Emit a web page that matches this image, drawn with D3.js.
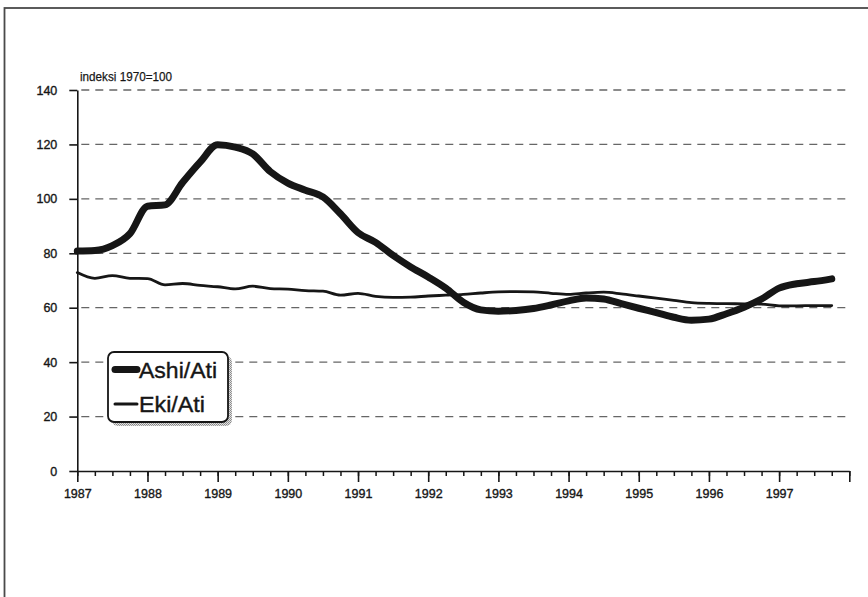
<!DOCTYPE html>
<html>
<head>
<meta charset="utf-8">
<script src="https://cdn.jsdelivr.net/npm/d3@7"></script>
<style>
  html, body { margin: 0; padding: 0; background: #ffffff; }
  svg { display: block; font-family: "Liberation Sans", Arial, Helvetica, sans-serif; }
</style>
</head>
<body>
<svg id="chart" width="868" height="597"></svg>
<script>
// ---- data (quarterly, decimal years) ----
const quarters = [
  1987.00, 1987.25, 1987.50, 1987.75,
  1988.00, 1988.25, 1988.50, 1988.75,
  1989.00, 1989.25, 1989.50, 1989.75,
  1990.00, 1990.25, 1990.50, 1990.75,
  1991.00, 1991.25, 1991.50, 1991.75,
  1992.00, 1992.25, 1992.50, 1992.75,
  1993.00, 1993.25, 1993.50, 1993.75,
  1994.00, 1994.25, 1994.50, 1994.75,
  1995.00, 1995.25, 1995.50, 1995.75,
  1996.00, 1996.25, 1996.50, 1996.75,
  1997.00, 1997.25, 1997.50, 1997.75
];
const ashiAti = [
  80.8, 81.0, 82.8, 87.2,
  97.3, 97.8, 106.0, 113.5,
  119.9, 119.0, 116.5, 110.0,
  105.8, 103.2, 100.7, 94.5,
  87.6, 84.0, 79.2, 75.0,
  71.3, 67.2, 62.0, 59.2,
  58.7, 59.0, 59.7, 61.0,
  62.5, 63.6, 63.2, 61.5,
  59.8, 58.2, 56.5, 55.4,
  55.8, 57.8, 60.2, 63.2,
  67.2, 68.8, 69.6, 70.6
];
const ekiAti = [
  72.9, 70.8, 71.8, 70.8,
  70.7, 68.4, 68.9, 68.2,
  67.7, 66.9, 67.9, 67.0,
  66.8, 66.3, 66.1, 64.6,
  65.3, 64.2, 63.8, 63.9,
  64.3, 64.6, 64.9, 65.4,
  65.8, 65.9, 65.8, 65.3,
  64.9, 65.4, 65.7, 65.1,
  64.3, 63.5, 62.7, 61.9,
  61.6, 61.5, 61.4, 61.3,
  60.7, 60.7, 60.8, 60.8
];
const yTicks = [0, 20, 40, 60, 80, 100, 120, 140];
const gridTicks = [20, 40, 60, 80, 100, 120, 140];
const yearTicks = [1987, 1988, 1989, 1990, 1991, 1992, 1993, 1994, 1995, 1996, 1997, 1998];
const yearLabels = ["1987", "1988", "1989", "1990", "1991", "1992", "1993", "1994", "1995", "1996", "1997", ""];
const seriesNames = ["Ashi/Ati", "Eki/Ati"];
const unitLabel = "indeksi 1970=100";

// ---- layout ----
const svg = d3.select("#chart");
const x = d3.scaleLinear().domain([1987, 1998]).range([77.3, 849.3]);
const y = d3.scaleLinear().domain([0, 140]).range([471, 90]);
const ink = "#161616";
const textStroke = 0.35;

// frame
svg.append("rect")
  .attr("x", 4.5).attr("y", 8).attr("width", 900).attr("height", 700)
  .attr("fill", "none").attr("stroke", "#4a4a4a").attr("stroke-width", 1.8);

// gridlines
svg.append("g").selectAll("line").data(gridTicks).join("line")
  .attr("x1", x(1987) + 4).attr("x2", 848)
  .attr("y1", d => y(d)).attr("y2", d => y(d))
  .attr("stroke", "#666").attr("stroke-width", 1.3)
  .attr("stroke-dasharray", "8,6");

// y axis
const yAxis = svg.append("g")
  .attr("transform", `translate(${x(1987)},0)`)
  .call(d3.axisLeft(y).tickValues(yTicks).tickSize(8).tickSizeOuter(0).tickPadding(12));
yAxis.select(".domain").attr("stroke", ink).attr("stroke-width", 1.6);
yAxis.selectAll(".tick line").attr("stroke", ink).attr("stroke-width", 1.6);
yAxis.selectAll("text").attr("font-size", 12.5).attr("fill", ink)
  .attr("stroke", ink).attr("stroke-width", textStroke)
  .attr("font-family", "'Liberation Sans', Arial, sans-serif");

// x axis minor (quarter) ticks
const minorAxis = svg.append("g")
  .attr("transform", `translate(0,${y(0)})`)
  .call(d3.axisBottom(x).tickValues(quarters.concat([1998])).tickSize(5).tickSizeOuter(0).tickFormat(""));
minorAxis.select(".domain").attr("stroke", ink).attr("stroke-width", 1.6);
minorAxis.selectAll(".tick line").attr("stroke", ink).attr("stroke-width", 1.5);

// x axis major (year) ticks
const xAxis = svg.append("g")
  .attr("transform", `translate(0,${y(0)})`)
  .call(d3.axisBottom(x).tickValues(yearTicks).tickSize(11).tickSizeOuter(0).tickPadding(7)
    .tickFormat((d, i) => yearLabels[i]));
xAxis.select(".domain").remove();
xAxis.selectAll(".tick line").attr("stroke", ink).attr("stroke-width", 1.6);
xAxis.selectAll("text").attr("font-size", 12.5).attr("fill", ink)
  .attr("stroke", ink).attr("stroke-width", textStroke)
  .attr("font-family", "'Liberation Sans', Arial, sans-serif");

// unit label
svg.append("text")
  .attr("x", 80).attr("y", 81)
  .attr("font-size", 13.5).attr("fill", ink)
  .attr("stroke", ink).attr("stroke-width", 0.25)
  .attr("textLength", 92).attr("lengthAdjust", "spacingAndGlyphs")
  .text(unitLabel);

// lines
const lineGen = vals => d3.line()
  .x((d, i) => x(quarters[i]))
  .y(d => y(d))
  .curve(d3.curveMonotoneX)(vals);

svg.append("path")
  .attr("d", lineGen(ekiAti))
  .attr("fill", "none").attr("stroke", ink).attr("stroke-width", 2.8)
  .attr("stroke-linejoin", "round").attr("stroke-linecap", "round");

svg.append("path")
  .attr("d", lineGen(ashiAti))
  .attr("fill", "none").attr("stroke", ink).attr("stroke-width", 7)
  .attr("stroke-linejoin", "round").attr("stroke-linecap", "round");

// legend
const defs = svg.append("defs");
const pat = defs.append("pattern").attr("id", "dots")
  .attr("width", 2).attr("height", 2).attr("patternUnits", "userSpaceOnUse");
pat.append("rect").attr("width", 2).attr("height", 2).attr("fill", "#e2e2e2");
pat.append("rect").attr("width", 1).attr("height", 1).attr("fill", "#888");
pat.append("rect").attr("x", 1).attr("y", 1).attr("width", 1).attr("height", 1).attr("fill", "#999");

const lg = svg.append("g");
lg.append("rect").attr("x", 112).attr("y", 356).attr("width", 120).attr("height", 70)
  .attr("rx", 6).attr("fill", "url(#dots)");
lg.append("rect").attr("x", 108).attr("y", 352).attr("width", 120).attr("height", 70)
  .attr("rx", 6).attr("fill", "#ffffff").attr("stroke", ink).attr("stroke-width", 1.8);

const legendRows = [
  { name: seriesNames[0], w: 7, cy: 369.5, len: 78 },
  { name: seriesNames[1], w: 3, cy: 404, len: 66 }
];
legendRows.forEach(r => {
  lg.append("line").attr("x1", 115).attr("x2", 137).attr("y1", r.cy).attr("y2", r.cy)
    .attr("stroke", ink).attr("stroke-width", r.w).attr("stroke-linecap", "round");
  lg.append("text").attr("x", 139).attr("y", r.cy).attr("dy", "0.36em")
    .attr("font-size", 22.5).attr("fill", ink)
    .attr("stroke", ink).attr("stroke-width", 0.4)
    .attr("textLength", r.len).attr("lengthAdjust", "spacingAndGlyphs")
    .text(r.name);
});
</script>
</body>
</html>
